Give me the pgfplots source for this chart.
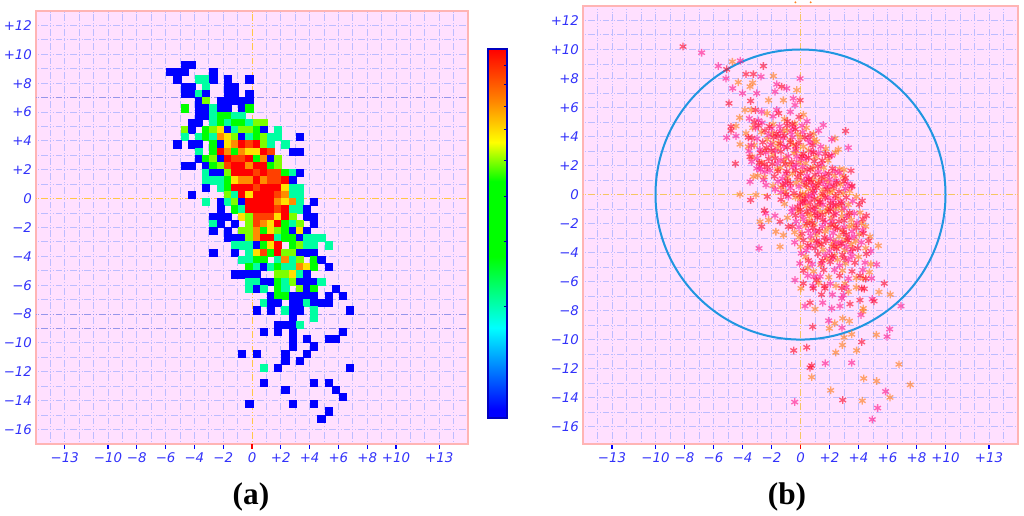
\documentclass[border=0pt]{standalone}
\usepackage{fontspec}
\setmainfont{DejaVu Sans}
\newfontfamily\capfont{Liberation Serif}
\usepackage{pgfplots}
\usepackage{pgfplotstable}
\pgfplotsset{compat=1.18}

\definecolor{bgpink}{RGB}{255,224,255}
\definecolor{frame}{RGB}{255,180,180}
\definecolor{gridl}{RGB}{188,188,255}
\definecolor{griddk}{RGB}{150,150,235}
\definecolor{zeroline}{RGB}{255,200,70}
\definecolor{ticktxt}{RGB}{50,50,250}
\definecolor{starred}{RGB}{255,16,48}
\definecolor{starpink}{RGB}{255,32,144}
\definecolor{starorg}{RGB}{255,128,32}
\definecolor{ringblue}{RGB}{32,150,225}

% cell column, cell row (half units from the origin), colour value on the bar
\pgfplotstableread[row sep=\\]{
c r v\\
-10 18 8\\ -9 18 8\\
-12 17 8\\ -11 17 8\\ -10 17 8\\ -6 17 8\\
-11 16 8\\ -8 16 116\\ -7 16 116\\ -6 16 8\\ -4 16 8\\ -1 16 8\\
-10 15 8\\ -9 15 8\\ -7 15 116\\ -4 15 8\\ -3 15 8\\
-10 14 8\\ -9 14 8\\ -8 14 116\\ -7 14 8\\ -4 14 8\\ -3 14 8\\ -1 14 8\\
-8 13 8\\ -7 13 255\\ -5 13 8\\ -4 13 8\\ -3 13 8\\ -2 13 8\\ -1 13 8\\
-10 12 200\\ -8 12 8\\ -7 12 8\\ -6 12 116\\ -5 12 8\\ -4 12 8\\ -2 12 8\\ -1 12 200\\
-8 11 8\\ -7 11 8\\ -6 11 116\\ -5 11 200\\ -4 11 200\\ -3 11 116\\ -2 11 116\\
-9 10 8\\ -8 10 8\\ -6 10 116\\ -5 10 200\\ -4 10 116\\ -3 10 200\\ -2 10 200\\ -1 10 116\\ 0 10 255\\ 1 10 255\\
-10 9 255\\ -9 9 8\\ -7 9 200\\ -6 9 255\\ -5 9 285\\ -4 9 8\\ -3 9 116\\ -2 9 255\\ -1 9 255\\ 0 9 200\\ 1 9 8\\ 3 9 116\\
-10 8 116\\ -8 8 116\\ -7 8 200\\ -6 8 116\\ -5 8 314\\ -4 8 285\\ -3 8 255\\ -2 8 8\\ -1 8 116\\ 0 8 200\\ 1 8 255\\ 2 8 116\\ 3 8 116\\ 6 8 8\\
-11 7 8\\ -9 7 8\\ -8 7 8\\ -6 7 200\\ -5 7 8\\ -4 7 285\\ -3 7 314\\ -2 7 368\\ -1 7 343\\ 0 7 368\\ 1 7 255\\ 2 7 116\\ 4 7 116\\
-8 6 116\\ -6 6 200\\ -5 6 368\\ -4 6 314\\ -3 6 200\\ -2 6 314\\ -1 6 285\\ 0 6 285\\ 1 6 368\\ 2 6 343\\ 5 6 8\\ 6 6 8\\
-8 5 8\\ -7 5 200\\ -6 5 255\\ -5 5 8\\ -4 5 368\\ -3 5 343\\ -2 5 343\\ -1 5 368\\ 0 5 200\\ 1 5 314\\ 2 5 8\\ 3 5 255\\
-10 4 8\\ -9 4 8\\ -7 4 8\\ -6 4 200\\ -5 4 255\\ -4 4 343\\ -3 4 368\\ -2 4 368\\ -1 4 314\\ 0 4 368\\ 1 4 368\\ 2 4 200\\ 3 4 255\\
-7 3 116\\ -6 3 8\\ -5 3 8\\ -4 3 255\\ -3 3 368\\ -2 3 368\\ -1 3 368\\ 0 3 343\\ 1 3 368\\ 2 3 343\\ 3 3 343\\ 4 3 200\\ 5 3 116\\ 6 3 8\\
-7 2 116\\ -6 2 116\\ -5 2 116\\ -4 2 200\\ -3 2 285\\ -2 2 314\\ -1 2 314\\ 0 2 368\\ 1 2 314\\ 2 2 343\\ 3 2 343\\ 4 2 368\\ 5 2 8\\
-7 1 8\\ -5 1 116\\ -4 1 200\\ -3 1 368\\ -2 1 368\\ -1 1 368\\ 0 1 343\\ 1 1 368\\ 2 1 368\\ 3 1 368\\ 4 1 285\\ 5 1 116\\ 6 1 116\\
-9 0 8\\ -4 0 255\\ -3 0 116\\ -2 0 368\\ -1 0 285\\ 0 0 368\\ 1 0 368\\ 2 0 368\\ 3 0 343\\ 4 0 314\\ 5 0 116\\ 6 0 116\\
-7 -1 116\\ -5 -1 8\\ -4 -1 116\\ -3 -1 255\\ -2 -1 8\\ -1 -1 368\\ 0 -1 368\\ 1 -1 368\\ 2 -1 368\\ 3 -1 314\\ 4 -1 285\\ 5 -1 314\\ 6 -1 116\\ 8 -1 8\\
-5 -2 8\\ -3 -2 200\\ -2 -2 116\\ -1 -2 368\\ 0 -2 368\\ 1 -2 368\\ 2 -2 368\\ 3 -2 343\\ 4 -2 368\\ 5 -2 116\\ 6 -2 116\\ 7 -2 8\\
-6 -3 8\\ -5 -3 8\\ -4 -3 8\\ -2 -3 285\\ -1 -3 255\\ 0 -3 343\\ 1 -3 343\\ 2 -3 343\\ 3 -3 285\\ 4 -3 368\\ 5 -3 255\\ 7 -3 8\\ 8 -3 8\\
-6 -4 116\\ -5 -4 8\\ -3 -4 8\\ -1 -4 255\\ 0 -4 343\\ 1 -4 314\\ 2 -4 285\\ 3 -4 368\\ 4 -4 200\\ 5 -4 116\\ 6 -4 255\\ 8 -4 8\\
-6 -5 8\\ -4 -5 8\\ -2 -5 255\\ -1 -5 255\\ 0 -5 314\\ 1 -5 200\\ 2 -5 285\\ 3 -5 255\\ 4 -5 200\\ 5 -5 8\\ 6 -5 285\\ 7 -5 8\\
-4 -6 8\\ -3 -6 8\\ -2 -6 8\\ -1 -6 255\\ 0 -6 314\\ 1 -6 368\\ 2 -6 368\\ 3 -6 116\\ 4 -6 200\\ 5 -6 200\\ 6 -6 8\\ 7 -6 116\\ 8 -6 116\\ 9 -6 116\\
-3 -7 116\\ -2 -7 116\\ -1 -7 116\\ 0 -7 8\\ 1 -7 200\\ 2 -7 285\\ 3 -7 368\\ 5 -7 200\\ 6 -7 255\\ 7 -7 116\\ 8 -7 116\\ 10 -7 116\\
-6 -8 8\\ -3 -8 8\\ -1 -8 116\\ 0 -8 285\\ 1 -8 343\\ 2 -8 200\\ 3 -8 368\\ 4 -8 255\\ 5 -8 255\\ 6 -8 8\\ 7 -8 8\\ 8 -8 8\\
-2 -9 116\\ -1 -9 116\\ 0 -9 200\\ 1 -9 200\\ 3 -9 116\\ 4 -9 314\\ 5 -9 116\\ 6 -9 255\\ 8 -9 200\\ 9 -9 8\\
-1 -10 200\\ 0 -10 116\\ 1 -10 8\\ 2 -10 116\\ 3 -10 200\\ 4 -10 116\\ 5 -10 116\\ 6 -10 314\\ 7 -10 285\\ 8 -10 200\\ 10 -10 8\\
-3 -11 8\\ -2 -11 8\\ -1 -11 8\\ 0 -11 8\\ 3 -11 255\\ 4 -11 255\\ 5 -11 285\\ 6 -11 116\\ 7 -11 8\\
-1 -12 116\\ 0 -12 116\\ 1 -12 8\\ 2 -12 8\\ 3 -12 200\\ 4 -12 116\\ 5 -12 255\\ 6 -12 8\\ 7 -12 8\\ 8 -12 8\\ 9 -12 116\\
-1 -13 116\\ 0 -13 8\\ 1 -13 116\\ 3 -13 200\\ 4 -13 116\\ 6 -13 255\\ 7 -13 8\\ 8 -13 200\\ 11 -13 8\\
2 -14 8\\ 3 -14 200\\ 4 -14 200\\ 5 -14 8\\ 6 -14 8\\ 7 -14 8\\ 8 -14 8\\ 10 -14 8\\ 12 -14 8\\
1 -15 116\\ 2 -15 8\\ 3 -15 8\\ 5 -15 8\\ 6 -15 8\\ 7 -15 116\\ 8 -15 8\\ 9 -15 8\\ 10 -15 8\\
0 -16 8\\ 2 -16 8\\ 4 -16 116\\ 5 -16 8\\ 6 -16 8\\ 8 -16 116\\ 13 -16 8\\
5 -17 8\\ 8 -17 116\\
3 -18 8\\ 4 -18 8\\ 5 -18 8\\ 6 -18 116\\
1 -19 8\\ 3 -19 8\\ 5 -19 8\\ 12 -19 8\\
5 -20 8\\ 7 -20 8\\ 10 -20 8\\ 11 -20 8\\
5 -21 8\\ 8 -21 8\\
-2 -22 8\\ 0 -22 8\\ 4 -22 8\\ 7 -22 8\\
4 -23 8\\ 6 -23 8\\
1 -24 116\\ 3 -24 8\\ 13 -24 8\\
1 -26 8\\ 8 -26 8\\ 10 -26 8\\
4 -27 8\\ 11 -27 8\\
12 -28 8\\
-1 -29 8\\ 5 -29 8\\ 8 -29 8\\
10 -30 8\\
9 -31 8\\
}\cells

\pgfplotsset{
  griddash/.style={dash pattern=on 5pt off 1.5pt on 0.7pt off 1.4pt on 0.7pt off 1.5pt,dash phase=6.85pt},
  panel/.style={
    scale only axis,
    anchor=south west,
    axis background/.style={fill=bgpink},
    axis line style={draw=frame,line width=1.2pt},
    xmin=-15,xmax=15,
    xtick={-13,-10,-8,-6,-4,-2,2,4,6,8,10,13},
    xticklabels={−13,−10,−8,−6,−4,−2,+2,+4,+6,+8,+10,+13},
    extra x ticks={0},
    extra x tick labels={0},
    extra x tick style={xtick style={draw=red,line width=0.8pt}},
    ytick={-16,-14,...,12},
    yticklabels={−16,−14,−12,−10,−8,−6,−4,−2,0,+2,+4,+6,+8,+10,+12},
    minor xtick={-14,...,14},
    minor ytick={-16,...,12},
    xminorgrids=true,yminorgrids=true,
    minor grid style={draw=gridl,line width=0.75pt,griddash},
    minor tick length=0pt,
    major tick length=3.5pt,
    tick align=outside,
    xtick pos=lower,ytick pos=left,
    xtick style={draw=blue,line width=0.8pt},
    ytick style={draw=none},
    ticklabel style={font=\itshape\fontsize{10}{10}\selectfont,text=ticktxt},
    yticklabel style={xshift=4pt},
    xticklabel style={yshift=0.5pt},
  },
  stars/.style={only marks,mark=asterisk,mark size=2.9pt,mark options={line width=1pt,opacity=0.65}},
  special/.style={forget plot,line width=0.75pt,griddash},
}

\begin{document}
\begin{tikzpicture}
\path[use as bounding box] (0,0) rectangle (768pt,387pt);

\begin{axis}[panel,
    at={(27pt,54pt)},width=324pt,height=324.75pt,
    ymin=-17,ymax=13,
    colormap={heat}{
      rgb255(0pt)=(0,0,255) rgb255(8pt)=(0,0,255) rgb255(90pt)=(0,255,255)
      rgb255(161pt)=(0,255,0) rgb255(236pt)=(0,255,0) rgb255(275pt)=(255,255,0)
      rgb255(318pt)=(255,128,0) rgb255(368pt)=(255,0,0)},
    point meta min=0,point meta max=368,
    colorbar,
    colorbar style={
      scale only axis,
      at={(1.0463,0.06)},anchor=south west,
      width=14.25pt,height=276.75pt,
      axis line style={draw=blue!75!black,line width=0.8pt},
      ytick={111,176,221,257,288,311,333,352},
      yticklabels={},
      ytick pos=right,
      major tick length=2.5pt,tick align=inside,
      ytick style={draw=blue!60!black,line width=0.6pt},
      xtick=\empty,
    },
]
\addplot[special,draw=griddk] coordinates {(-15,7)(15,7)};
\addplot[special,draw=griddk] coordinates {(-15,-8)(15,-8)};
\addplot[special,draw=griddk] coordinates {(-15,-9)(15,-9)};
\addplot[special,draw=zeroline] coordinates {(-15,0)(15,0)};
\addplot[special,draw=zeroline] coordinates {(0,-17)(0,13)};
\addplot[scatter,only marks,mark=square*,mark size=2.7pt,
    scatter src=explicit,
    scatter/use mapped color={draw=mapped color,fill=mapped color},
    mark options={line width=0pt}]
  table[x expr=\thisrow{c}*0.5+0.32,y expr=\thisrow{r}*0.5+0.25,meta=v] {\cells};
\end{axis}

\begin{axis}[panel,
    at={(437.25pt,54pt)},width=326.25pt,height=328.5pt,
    ymin=-17.2,ymax=13,
    clip=false,
]
% orange stars
\addplot[stars,color=starorg] coordinates {
(-4.7,9.16)(-4.29,7.74)(-3.48,7.44)(-3.3,7.7)(-1.87,8.17)(-0.26,7.2)(-2.2,6.5)(-1.18,6.5)(-3.83,5.83)(-3.4,5.83)(-4.2,5.3)(-4.45,4.72)(-3.76,4.22)(-4.17,3.46)(-3.6,3.3)(2.38,3.87)(2.61,3.11)(2.7,1.75)(-3.25,1.23)(-4.17,0)(-3.07,-0.03)(-2.79,-1.87)(-2.2,-1.76)(-1.7,-2.56)(-1.18,-2.8)(-1.41,-3.6)(4.22,-1.99)(4.79,-2.9)(5.37,-3.53)(0.03,-6.47)(1,-7.9)(3.3,-6.7)(4.33,-5.78)(3.07,-6.13)(4.33,-7.85)(4.3,-8.05)(5.41,-6.72)(6.19,-6.89)(2.91,-8.54)(3.37,-8.72)(1.99,-9.23)(2.36,-8.88)(3.0,-9.85)(3.53,-9.64)(2.89,-10.38)(5.23,-9.67)(3.87,-10.75)(2.43,-10.89)(0.77,-12.59)(4.36,-12.68)(5.25,-12.86)(6.79,-11.71)(7.57,-13.12)(2.08,-13.5)(6.17,-13.99)(4.26,-14.22)
(-2.3,5.6)(-1.1,5.2)(0.2,5.5)(-0.4,4.9)
(-2.7,4.3)(-1.9,4.85)(-1.2,4.4)(-0.2,4.15)(0.4,4.6)(0.9,4.2)
(-3.2,3.4)(-2.3,3.8)(-1.6,3.2)(-0.7,3.75)(0.2,3.3)(1.1,3.65)(1.75,3.15)
(-2.7,2.2)(-1.9,2.75)(-1.15,2.3)(-0.45,2.85)(0.35,2.15)(1.05,2.6)(1.9,2.35)(2.4,2.9)
(-2.5,1.2)(-1.6,1.75)(-0.9,1.2)(0.1,1.6)(0.85,1.05)(1.6,1.85)(2.35,1.3)(3.0,1.7)
(-1.9,0.6)(-1.05,0.2)(-0.3,0.8)(0.55,0.35)(1.3,0.95)(2.0,0.15)(2.75,0.7)(3.4,0.25)(0.15,0.05)
(-1.1,-0.65)(-0.35,-0.2)(0.4,-0.8)(1.2,-0.35)(1.85,-0.9)(2.6,-0.25)(3.3,-0.7)(3.85,-0.15)
(-0.9,-1.6)(-0.15,-1.15)(0.6,-1.8)(1.35,-1.2)(2.1,-1.65)(2.85,-1.1)(3.5,-1.75)(4.1,-1.25)
(-0.4,-2.6)(0.35,-2.15)(1.1,-2.8)(1.9,-2.3)(2.65,-2.9)(3.35,-2.2)(4.05,-2.75)(4.5,-2.2)
(0.0,-3.6)(0.75,-3.15)(1.55,-3.8)(2.3,-3.25)(3.05,-3.85)(3.8,-3.2)(4.5,-3.7)
(0.35,-4.3)(1.4,-4.85)(2.35,-4.2)(3.1,-4.75)(4.0,-4.3)(4.85,-4.8)
(0.9,-5.3)(1.95,-5.7)(2.9,-5.25)(3.85,-5.75)(4.75,-5.35)
(-1.5,3.55)(-0.5,3.45)(0.55,3.05)(-1.0,2.55)(-0.1,2.2)(0.85,1.85)(-1.4,1.85)(-0.55,1.45)(0.3,0.7)(1.05,0.65)(1.9,0.85)(0.0,-0.3)(1.45,-0.05)(2.2,0.25)(2.95,0.1)(0.5,-1.35)(1.25,-0.75)(2.4,-1.0)(0.95,-2.05)(1.7,-2.55)(2.9,-2.45)(3.3,-1.45)(1.3,-3.4)(2.6,-3.55)(3.5,-3.45)(1.8,-4.4)(2.55,-4.5)(-0.9,4.4)(0.0,3.95)(-1.9,3.55)
(-1.95,4.2)(-0.75,2.05)(1.65,1.1)(2.85,-1.5)(0.05,1.0)(1.55,0.35)(2.65,-0.8)(0.75,-1.45)(1.75,-1.2)(2.3,-2.05)(3.1,-3.1)(2.15,-3.55)(-2.45,3.05)(-3.3,4.6)(-3.35,2.6)(-2.95,1.3)(-0.1,-2.95)(0.5,-5.05)(1.25,-6.1)(2.45,-6.3)(3.85,-6.4)(-0.3,3.0)(0.95,3.8)(-1.35,0.5)(0.35,0.0)(2.95,1.25)(3.65,-2.1)
};
% pink stars
\addplot[stars,color=starpink] coordinates {
(-5.67,8.86)(-4.15,9.23)(-5.14,8.0)(-4.68,7.32)(-2.72,8.13)(-0.03,8.0)(-3.02,6.98)(-4.0,6.98)(-1.76,7.09)(-1.64,7.6)(-0.95,7.32)(-0.5,6.63)(-0.38,6.17)(-1.64,5.83)(-2.68,5.71)(-3.53,5.25)(-5.09,3.92)(-4.45,4.03)(-3.55,3.0)(-3.37,2.26)(-3.02,1.8)(-2.79,1.92)(-2.45,1.57)(-3.48,0.88)(-2.38,0.65)(1.57,4.79)(2.15,3.8)(3.3,3.23)(3.53,0.54)(3.71,-1.3)(-1.76,-1.46)(-2.4,-1.3)(-2.86,-3.71)(0.93,-5.67)(-0.38,-5.9)(0.31,-7.69)(1.53,-7.46)(2.15,-7.85)(2.84,-7.16)(2.72,-7.69)(4.17,-8.3)(2.2,-6.9)(2.95,-6.93)(4.9,-5.78)(4.95,-7.21)(6.93,-7.69)(5.25,-4.82)(1.94,-8.7)(2.86,-9.19)(5.97,-9.8)(6.15,-9.28)(1.71,-11.64)(3.53,-11.6)(5.87,-13.58)(-0.4,-14.31)(5.32,-14.72)(4.95,-15.51)(-6.82,9.78)
(-2.9,5.1)(-1.9,5.4)(-0.7,5.7)(0.45,5.05)
(-3.1,4.6)(-2.2,4.1)(-1.45,4.7)(-0.65,4.3)(0.1,4.75)(1.25,4.4)
(-2.8,3.1)(-2.05,3.45)(-1.2,3.9)(-0.35,3.1)(0.55,3.8)(1.4,3.3)(-3.0,3.85)
(-2.4,2.9)(-1.6,2.15)(-0.85,2.65)(0.05,2.45)(0.75,2.95)(1.45,2.1)(2.15,2.7)(-3.0,2.5)
(-2.1,1.65)(-1.25,1.1)(-0.5,1.9)(0.45,1.3)(1.25,1.55)(2.0,1.05)(2.7,1.5)(-2.75,1.7)
(-1.55,0.9)(-0.7,0.45)(0.25,0.95)(0.95,0.1)(1.75,0.55)(2.45,0.95)(3.1,0.4)(-1.35,0.15)
(-0.85,-0.15)(0.0,-0.6)(0.75,-0.15)(1.55,-0.7)(2.25,-0.4)(3.0,-0.95)(3.6,-0.45)(-0.55,-0.95)
(-0.6,-1.2)(0.2,-1.7)(0.95,-1.05)(1.7,-1.9)(2.45,-1.3)(3.2,-1.5)(3.9,-1.95)(-0.3,-1.85)
(-0.1,-2.25)(0.7,-2.85)(1.5,-2.2)(2.25,-2.65)(3.0,-2.25)(3.7,-2.9)(4.3,-2.45)
(-0.4,-3.3)(0.4,-3.85)(1.2,-3.3)(2.0,-3.9)(2.75,-3.4)(3.45,-3.95)(4.2,-3.3)(4.85,-3.9)
(0.8,-4.8)(1.7,-4.2)(2.7,-4.9)(3.55,-4.25)(4.45,-4.7)(0.05,-4.05)
(1.35,-5.65)(2.35,-5.2)(3.3,-5.8)(4.3,-5.2)(0.5,-5.6)
(-1.75,3.0)(-0.55,3.95)(0.65,3.55)(-1.35,2.4)(-0.25,2.6)(1.25,2.85)(-1.0,1.45)(0.15,1.9)(1.7,1.4)(-0.1,0.55)(0.85,0.6)(2.1,0.65)(0.3,-0.45)(1.3,-0.55)(2.75,-0.5)(0.1,-1.4)(1.2,-1.45)(2.2,-1.85)(3.55,-2.55)(0.55,-2.5)(2.05,-3.05)(0.7,-3.55)(3.15,-3.6)(2.25,-4.35)(3.3,-4.5)(-2.0,4.55)(-0.5,4.6)(-1.15,3.3)(0.4,2.5)(2.4,1.6)
(-2.65,4.95)(-3.4,3.4)(-2.55,1.0)(-1.75,0.35)(-0.3,2.05)(1.55,0.85)(2.25,-0.75)(0.55,-0.05)(1.05,-2.55)(2.4,-3.3)(3.35,-3.0)(1.45,-4.75)(-0.05,-4.75)(0.85,-6.3)(2.05,-6.15)(3.15,-6.4)(-1.05,0.75)(0.6,1.05)(1.9,-0.25)(3.25,0.75)(-1.4,4.35)(0.15,4.3)
};
% red stars
\addplot[stars,color=starred] coordinates {
(-8.1,10.2)(-5.09,8.63)(-2.56,8.86)(-3.76,8.3)(-3.25,8.3)(-1.3,7.44)(-0.03,6.5)(-4.93,6.29)(-3.44,6.45)(-3.1,5.83)(-4.79,4.68)(-4.79,4.4)(-3.6,3.94)(-3.48,2.6)(-4.49,2.13)(3.11,4.38)(1.97,2.65)(3.48,1.64)(4.26,-0.43)(4.54,-1.46)(4.33,-2.68)(-3.44,-0.38)(-2.29,-0.15)(-2.49,-1.1)(-2.68,-2.22)(-1.41,-1.87)(-0.84,-2.22)(0.88,-6.47)(0.19,-6.13)(0.66,-7.46)(3.41,-7.55)(4.1,-7.28)(1.69,-6.47)(1.45,-6.9)(4.22,-6.47)(4.4,-6.5)(5.07,-7.35)(5.78,-6.13)(0.84,-9.12)(4.22,-10.17)(-0.47,-10.75)(0.43,-10.54)(0.77,-11.8)(0.66,-11.94)(2.91,-14.17)
(-3.2,5.0)(-1.5,5.6)(-0.9,5.05)(-0.1,5.35)
(-2.9,4.75)(-2.45,4.4)(-1.65,4.2)(-0.95,4.75)(-0.35,4.5)(0.65,4.1)(-1.1,4.05)
(-2.6,3.6)(-1.85,3.95)(-1.4,3.5)(-0.9,3.25)(-0.1,3.6)(0.85,3.4)(0.3,3.95)(-2.35,3.2)
(-2.2,2.45)(-1.35,2.95)(-0.6,2.25)(0.2,2.8)(0.95,2.3)(1.7,2.8)(-1.75,2.5)(0.55,2.55)(-2.75,2.85)
(-2.3,1.9)(-1.8,1.25)(-0.95,1.6)(-0.2,1.2)(0.7,1.75)(1.45,1.2)(2.2,1.8)(3.1,1.15)(-0.35,1.65)(1.0,1.35)
(-1.2,0.65)(-0.45,0.1)(0.4,0.65)(1.1,0.45)(1.55,0.05)(2.3,0.55)(3.0,0.9)(3.55,0.6)(-0.9,0.95)(2.65,0.2)(0.75,0.85)
(-1.35,-0.35)(-0.2,-0.85)(0.3,-0.3)(1.0,-0.85)(1.7,-0.2)(2.45,-0.7)(3.15,-0.2)(4.05,-0.7)(0.65,-0.55)(2.05,-0.6)
(-0.35,-1.45)(0.45,-1.2)(1.15,-1.6)(1.95,-1.15)(2.65,-1.85)(3.4,-1.25)(4.3,-1.7)(0.8,-1.95)(1.5,-1.4)
(0.1,-2.7)(0.85,-2.3)(1.65,-2.95)(2.4,-2.25)(3.15,-2.75)(3.85,-2.3)(-0.55,-2.2)(1.3,-2.5)
(0.2,-3.15)(1.0,-3.7)(1.75,-3.2)(2.5,-3.75)(3.25,-3.15)(3.95,-3.7)(4.7,-3.2)
(0.55,-4.55)(1.2,-4.1)(2.05,-4.65)(2.9,-4.15)(3.75,-4.7)(4.55,-4.1)
(1.6,-5.2)(2.7,-5.6)(3.55,-5.3)(4.5,-5.8)(1.1,-5.9)
(-2.0,3.05)(-0.3,3.35)(0.9,2.9)(-1.55,1.6)(0.45,1.7)(1.5,2.35)(-0.7,0.75)(0.85,0.25)(1.85,0.35)(2.5,0.8)(-0.05,-0.05)(0.95,-0.3)(2.4,-0.1)(2.85,-0.6)(0.0,-1.05)(1.0,-1.3)(2.3,-1.4)(3.0,-1.8)(0.45,-2.0)(2.1,-2.1)(2.95,-2.6)(1.45,-3.45)(2.3,-3.6)(3.6,-3.75)(1.5,-4.55)(-1.55,4.0)(-0.7,3.6)(0.1,2.65)(1.2,1.95)(-1.0,-0.0)
(-1.95,2.1)(-1.05,2.1)(0.0,1.45)(0.55,1.05)(1.25,0.75)(1.95,1.45)(0.15,-0.55)(0.7,-0.95)(1.35,-0.5)(2.05,-1.0)(1.55,-1.75)(2.55,-2.35)(1.1,-3.2)(0.5,-3.5)(2.85,-3.35)(2.15,-4.25)(3.0,-4.4)(-2.5,2.1)(-0.55,4.85)(-2.15,4.7)(-3.35,3.9)(-2.85,2.2)(1.65,-6.3)(2.85,-6.45)(0.2,-5.25)(4.1,-5.6)
};
\addplot[special,draw=zeroline,opacity=0.85] coordinates {(-15,0)(15,0)};
\addplot[special,draw=zeroline,opacity=0.85] coordinates {(0,-17.2)(0,13)};
\addplot[forget plot,only marks,mark=*,mark size=0.5pt,color=starorg] coordinates {(-0.35,13.25)(0.7,13.25)};
\draw[ringblue,line width=1.5pt] (axis cs:0,0) ellipse [x radius=10,y radius=10];
\end{axis}

\node[anchor=base,font=\capfont\bfseries\fontsize{23.5}{24}\selectfont] at (188.25pt,8.25pt) {(a)};
\node[anchor=base,font=\capfont\bfseries\fontsize{23.5}{24}\selectfont] at (590.25pt,8.25pt) {(b)};
\end{tikzpicture}
\end{document}
